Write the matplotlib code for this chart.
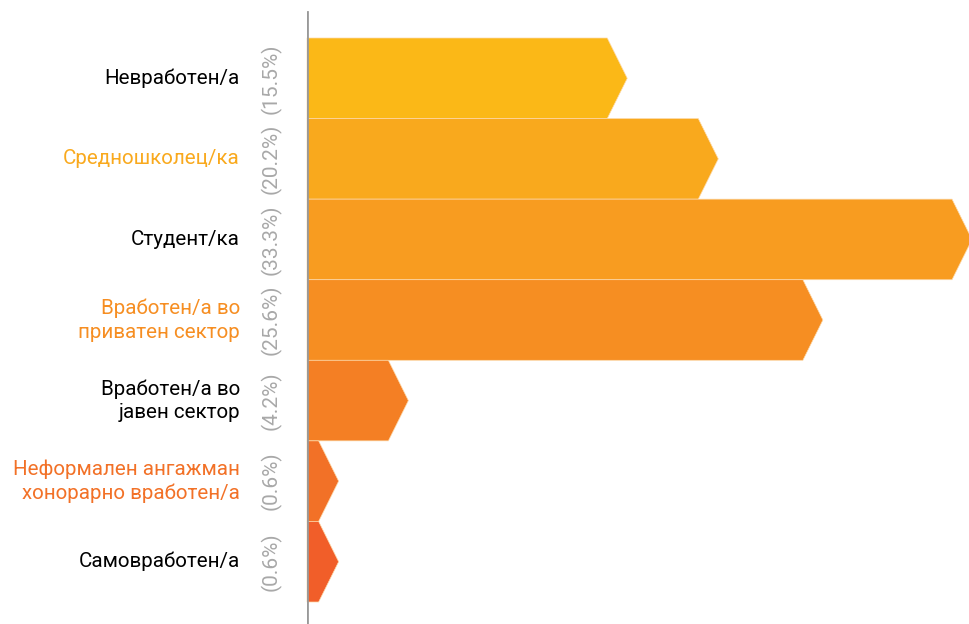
import numpy as np
import matplotlib.pyplot as plt
from matplotlib.patches import Polygon

plt.rcParams['font.family'] = ['Roboto', 'DejaVu Sans']

# data (percent of respondents)
categories = ['Невработен/а', 'Средношколец/ка', 'Студент/ка',
              'Вработен/а во\nприватен сектор', 'Вработен/а во\nјавен сектор',
              'Неформален ангажман\nхонорарно вработен/а', 'Самовработен/а']
values = [15.5, 20.2, 33.3, 25.6, 4.2, 0.6, 0.6]
pct_labels = ['(15.5%)', '(20.2%)', '(33.3%)', '(25.6%)', '(4.2%)', '(0.6%)', '(0.6%)']
colors = ['#FBB817', '#F9A91D', '#F89C20', '#F68E22', '#F47F24', '#F27127', '#F15E29']

W, H = 969, 624
fig = plt.figure(figsize=(W / 100, H / 100), dpi=100)

# axes starts at the vertical line, x in percent
px_per_pct = 19.37
left = 307
ax = fig.add_axes([left / W, 0, 1 - left / W, 1])
ax.set_xlim(0, (W - left) / px_per_pct)
row_h = 564 / 7
top = -0.5 - 38 / row_h
bottom = 6.5 + (H - 602) / row_h
ax.set_ylim(bottom, top)
ax.axis('off')

tip = 20 / px_per_pct
for i, (v, c) in enumerate(zip(values, colors)):
    pts = [(0, i - 0.5), (v, i - 0.5), (v + tip, i), (v, i + 0.5), (0, i + 0.5)]
    ax.add_patch(Polygon(pts, closed=True, facecolor=c, edgecolor='#FDD9A8',
                         linewidth=0.5, clip_on=False))

# vertical axis line
ax.axvline(0, ymin=0, ymax=(H - 12) / H, color='#999999', linewidth=2)

for i, (cat, p) in enumerate(zip(categories, pct_labels)):
    tc = 'black' if i % 2 == 0 else colors[i]
    ax.annotate(cat, xy=(0, i), xytext=(-67, 0), textcoords='offset pixels',
                ha='right', va='center', fontsize=14.8, color=tc,
                linespacing=1.3, annotation_clip=False)
    ax.annotate(p, xy=(0, i), xytext=(-36, 0), textcoords='offset pixels',
                ha='center', va='center', rotation=90, fontsize=15,
                color='#A8A8A8', annotation_clip=False)

fig.savefig('out.png', dpi=100)
